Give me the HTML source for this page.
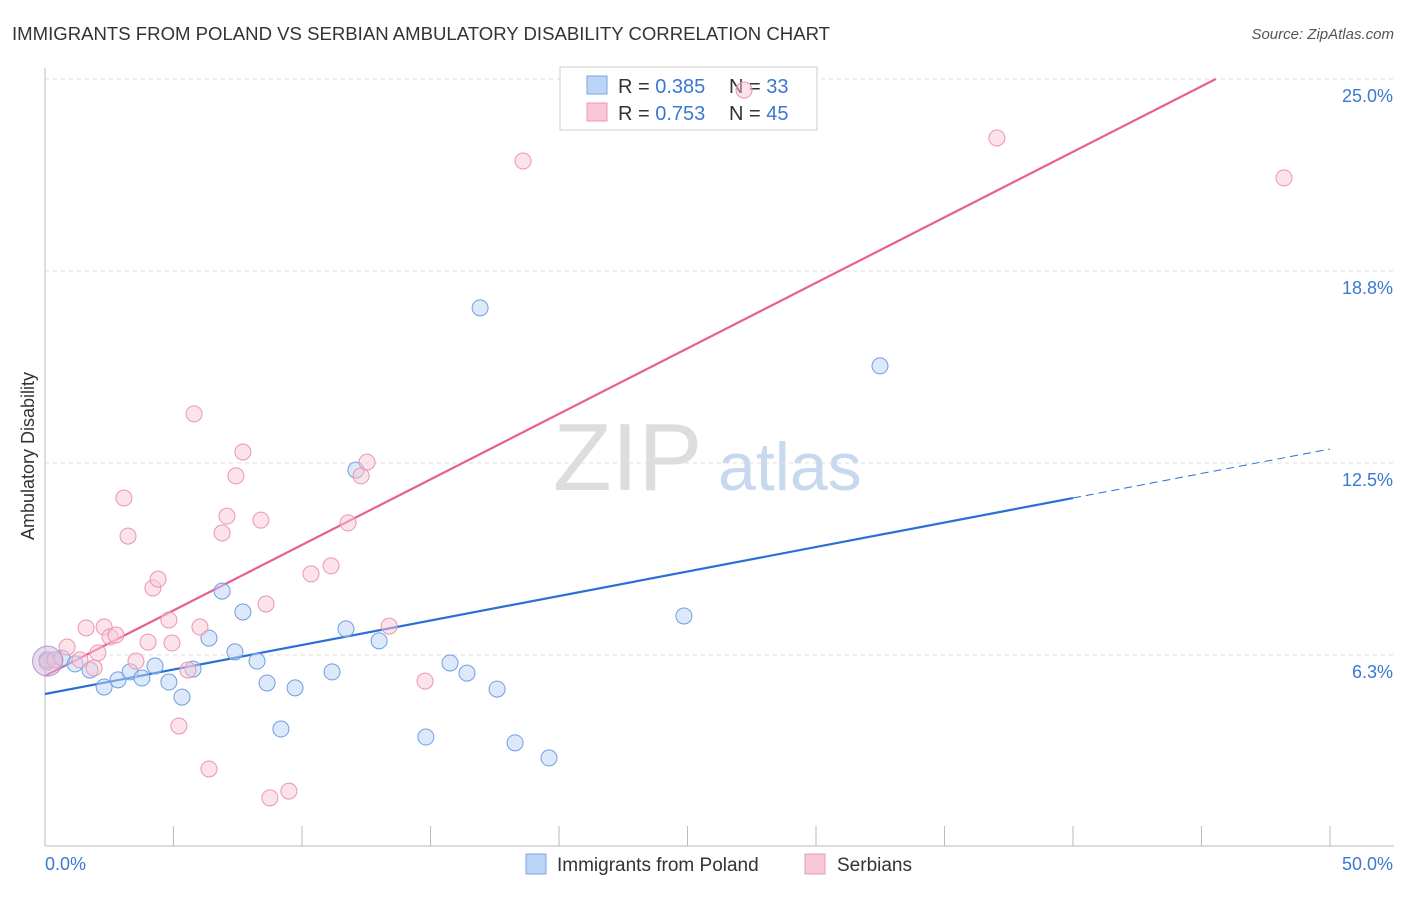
<!DOCTYPE html>
<html><head><meta charset="utf-8"><style>
body{margin:0;background:#fff;font-family:"Liberation Sans",sans-serif}
svg text{font-family:"Liberation Sans",sans-serif}
</style></head><body>
<svg id="chart" width="1406" height="892">
<text x="12" y="40" font-size="18" fill="#333" textLength="818" lengthAdjust="spacingAndGlyphs">IMMIGRANTS FROM POLAND VS SERBIAN AMBULATORY DISABILITY CORRELATION CHART</text>
<text x="1394" y="39" font-size="15" fill="#555" font-style="italic" text-anchor="end">Source: ZipAtlas.com</text>
<text x="34" y="456" font-size="18" fill="#333" text-anchor="middle" transform="rotate(-90 34 456)">Ambulatory Disability</text>
<text x="553" y="490" font-size="96" fill="#ddd" font-family="Liberation Serif">ZIP</text>
<text x="718" y="490" font-size="68" fill="#c8d8ee">atlas</text>
<g id="grid"></g><g id="lines"></g>
<g>
<rect x="560" y="67" width="257" height="63" fill="#fff" stroke="#ccc"/>
<rect x="587" y="76" width="20" height="18" fill="#bcd4f5" stroke="#7aa6e0"/>
<rect x="587" y="103" width="20" height="18" fill="#f9c8d6" stroke="#eb9ab4"/>
<text x="618" y="93" font-size="20" fill="#333">R = <tspan fill="#3a78d4">0.385</tspan></text>
<text x="729" y="93" font-size="20" fill="#333">N = <tspan fill="#3a78d4">33</tspan></text>
<text x="618" y="120" font-size="20" fill="#333">R = <tspan fill="#3a78d4">0.753</tspan></text>
<text x="729" y="120" font-size="20" fill="#333">N = <tspan fill="#3a78d4">45</tspan></text>
</g>
<g id="pts"></g>
<g>
<rect x="526" y="854" width="20" height="20" fill="#bcd4f5" stroke="#7aa6e0"/>
<text x="557" y="871" font-size="19" fill="#333">Immigrants from Poland</text>
<rect x="805" y="854" width="20" height="20" fill="#f9c8d6" stroke="#eb9ab4"/>
<text x="837" y="871" font-size="19" fill="#333">Serbians</text>
</g>
</svg>
<script>
const yTicks=[6.25,12.5,18.75,25];
const yTickLabels=["6.3%","12.5%","18.8%","25.0%"];
const xTickLabels=["0.0%","50.0%"];
const blueX=[0.08,0.66,1.17,1.75,2.30,2.84,3.31,3.77,4.28,4.82,5.33,5.76,6.38,6.89,7.39,7.70,8.25,8.64,9.18,9.73,11.17,11.71,12.10,13.00,14.82,15.76,16.42,16.93,17.59,18.29,19.61,24.86,32.49];
const blueY=[6.09,6.15,5.96,5.76,5.21,5.44,5.70,5.50,5.89,5.37,4.88,5.79,6.80,8.33,6.35,7.65,6.05,5.34,3.84,5.18,5.70,7.10,12.27,6.71,3.58,5.99,5.66,17.55,5.14,3.39,2.90,7.52,15.66];
const pinkX=[0.08,0.39,0.86,1.36,1.60,1.91,2.06,2.30,2.53,2.76,3.07,3.23,3.54,4.01,4.20,4.40,4.82,4.94,5.21,5.56,5.80,6.03,6.38,6.89,7.08,7.43,7.70,8.40,8.60,8.75,9.49,10.35,11.13,11.79,12.30,12.53,13.39,14.79,18.60,27.20,37.04,48.21];
const pinkY=[6.02,6.09,6.51,6.09,7.13,5.83,6.32,7.16,6.84,6.90,11.36,10.12,6.05,6.67,8.43,8.72,7.39,6.64,3.94,5.76,14.10,7.16,2.54,10.22,10.77,12.08,12.86,10.64,7.91,1.60,1.82,8.89,9.15,10.55,12.08,12.53,7.19,5.40,22.33,24.64,23.08,21.78];
const blueFit=[4.98,0.1595];
const pinkFit=[5.57,0.4265];
const X=v=>45+v*25.7, Y=v=>847-v*30.72;
const NS="http://www.w3.org/2000/svg";
function mk(p,t,a){const e=document.createElementNS(NS,t);for(const k in a)e.setAttribute(k,a[k]);document.getElementById(p).appendChild(e);return e;}
yTicks.forEach((t,i)=>{
 const l=mk('grid','line',{x1:45,x2:1394,y1:Y(t),y2:Y(t),stroke:'#ddd','stroke-dasharray':'4,4'});
 
 
 const tx=mk('grid','text',{x:1393,y:Y(t)+23,'font-size':18,fill:'#3a78d4','text-anchor':'end'});tx.textContent=yTickLabels[i];
 
 
});
const ax=mk('grid','line',{x1:45,x2:1394,y1:846,y2:846,stroke:'#bbb'});


const ay=mk('grid','line',{x1:45,x2:45,y1:68,y2:846,stroke:'#bbb'});


for(let i=0;i<=10;i++){const t=mk('grid','line',{x1:X(i*5),x2:X(i*5),y1:826,y2:846,stroke:'#bbb'});
 
 }
[[0,'start',45],[1,'end',1393]].forEach(([i,a,x])=>{const t=mk('grid','text',{x:x,y:870,'font-size':18,fill:'#3a78d4','text-anchor':a});t.textContent=xTickLabels[i];
 
 });
function line(f,x0,x1,c,d,n){const l=mk('lines','line',{x1:X(x0),y1:Y(f[0]+f[1]*x0),x2:X(x1),y2:Y(f[0]+f[1]*x1),stroke:c,'stroke-width':d?1:2.2,'stroke-dasharray':d?'8,5':'none'});
 
 }
line(blueFit,0,40,'#2a6fd6',0,'poland-trend-line');
line(blueFit,40,50,'#2a6fd6',1,'poland-trend-extension');
line(pinkFit,0,(25-pinkFit[0])/pinkFit[1],'#e8608f',0,'serbians-trend-line');
function pts(xs,ys,f,s,n){xs.forEach((x,i)=>{const c=mk('pts','circle',{cx:X(x),cy:Y(ys[i]),r:8,fill:f,stroke:s,'stroke-width':1,'fill-opacity':0.5});
 
 });}
pts(blueX,blueY,'#bcd4f5','#6e9fe0','poland-point');
pts(pinkX,pinkY,'#f9c8d6','#ec94b2','serbians-point');
const big=mk('pts','circle',{cx:X(0.1),cy:Y(6.05),r:15,fill:'#d0b8dc','fill-opacity':0.5,stroke:'#b09ad0'});


</script>
</body></html>
